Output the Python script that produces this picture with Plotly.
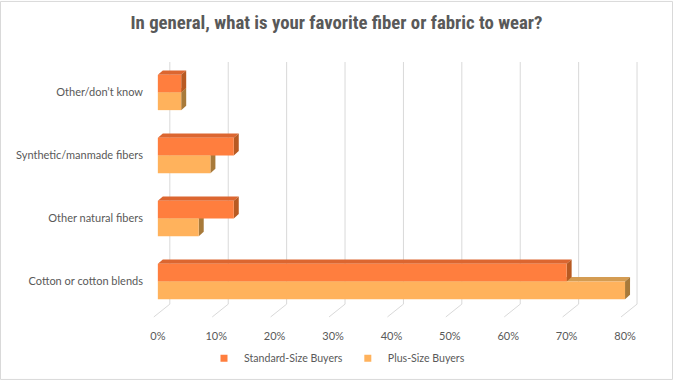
import plotly.graph_objects as go

# ---- data ----
categories = ["Cotton or cotton blends", "Other natural fibers",
              "Synthetic/manmade fibers", "Other/don’t know"]
standard = [0.70, 0.13, 0.13, 0.04]
plus = [0.80, 0.07, 0.09, 0.04]
x_ticks = [0.0, 0.1, 0.2, 0.3, 0.4, 0.5, 0.6, 0.7, 0.8]
series_names = ["Standard-Size Buyers", "Plus-Size Buyers"]

# ---- layout constants (styles) ----
W, H = 673, 385
L, R, T, B = 152, 23, 61, 68
PW = W - L - R
PH = H - T - B
PX_PER_X = 584.0          # pixels per 1.0 of value
X0 = -0.01
X1 = X0 + PW / PX_PER_X
PX_PER_Y = PH / 4.0
BAR_W = 0.28
DX = 5 / PX_PER_X          # 3D depth (x)
DY = 4.5 / PX_PER_Y        # 3D depth (y)

STD_FRONT, STD_TOP, STD_SIDE = "#FF7E3E", "#DC6630", "#B85A22"
PLS_FRONT, PLS_TOP, PLS_SIDE = "#FFB25C", "#D49C52", "#A87A3A"
GRID = "#D9D9D9"
TXT = "#595959"
FONT = "Lato, Open Sans, sans-serif"

fig = go.Figure()
y_pos = list(range(len(categories)))

fig.add_trace(go.Bar(y=y_pos, x=standard, orientation="h", offset=0, width=BAR_W,
                     marker=dict(color=STD_FRONT, line=dict(width=0)),
                     name=series_names[0], legendgroup="std", showlegend=False,
                     hoverinfo="x+name"))
fig.add_trace(go.Bar(y=y_pos, x=plus, orientation="h", offset=-BAR_W, width=BAR_W,
                     marker=dict(color=PLS_FRONT, line=dict(width=0)),
                     name=series_names[1], legendgroup="pls", showlegend=False,
                     hoverinfo="x+name"))
# legend entries with small square keys
for nm, col, grp in [(series_names[0], STD_FRONT, "std"), (series_names[1], PLS_FRONT, "pls")]:
    fig.add_trace(go.Scatter(x=[None], y=[None], mode="markers", name=nm, legendgroup=grp,
                             marker=dict(symbol="square", size=7, color=col),
                             showlegend=True, hoverinfo="skip"))

shapes = []
# back-plane gridlines with perspective feet
def py(p):
    return (T + PH - p) / PH
for t in x_ticks:
    xb = t + 12 / PX_PER_X
    xf = t - 4 / PX_PER_X
    shapes.append(dict(type="line", xref="x", yref="paper", x0=xb, x1=xb,
                       y0=py(62), y1=py(308), line=dict(color=GRID, width=1), layer="below"))
    shapes.append(dict(type="line", xref="x", yref="paper", x0=xb, x1=xf,
                       y0=py(308), y1=py(321), line=dict(color=GRID, width=1), layer="below"))

def poly(pts, color):
    path = "M " + " L ".join(f"{x},{y}" for x, y in pts) + " Z"
    return dict(type="path", xref="x", yref="y", path=path, fillcolor=color,
                line=dict(width=0), layer="below")

# plus bars (lower) depth faces first
for i, v in zip(y_pos, plus):
    y0, y1 = i - BAR_W, i
    shapes.append(poly([(0, y1), (v, y1), (v + DX, y1 + DY), (DX, y1 + DY)], PLS_TOP))
    shapes.append(poly([(v, y0), (v, y1), (v + DX, y1 + DY), (v + DX, y0 + DY)], PLS_SIDE))
# standard bars (upper)
for i, v in zip(y_pos, standard):
    y0, y1 = i, i + BAR_W
    shapes.append(poly([(0, y1), (v, y1), (v + DX, y1 + DY), (DX, y1 + DY)], STD_TOP))
    shapes.append(poly([(v, y0), (v, y1), (v + DX, y1 + DY), (v + DX, y0 + DY)], STD_SIDE))

# outer chart border
shapes.append(dict(type="rect", xref="paper", yref="paper",
                   x0=(0.5 - L) / PW, x1=(W - 0.5 - L) / PW,
                   y0=(T + PH - (H - 0.5)) / PH, y1=(T + PH - 0.5) / PH,
                   line=dict(color=GRID, width=1), fillcolor="rgba(0,0,0,0)", layer="above"))

fig.update_layout(
    width=W, height=H,
    margin=dict(l=L, r=R, t=T, b=B, pad=0),
    paper_bgcolor="white", plot_bgcolor="white",
    barmode="overlay",
    shapes=shapes,
    title=dict(text="In general, what is your favorite fiber or fabric to wear?",
               x=0.5, xref="container", xanchor="center",
               y=1 - 22 / H, yref="container", yanchor="middle",
               font=dict(family="Liberation Sans Narrow, Roboto Condensed, Arial Narrow, sans-serif",
                         size=18.8, color=TXT, weight="bold")),
    xaxis=dict(range=[X0, X1], tickvals=x_ticks, tickformat=".0%",
               showgrid=False, zeroline=False, showline=False, ticks="",
               ticklabelstandoff=15,
               tickfont=dict(family=FONT, size=11, color=TXT)),
    yaxis=dict(range=[-0.5, 3.5], tickmode="array", tickvals=y_pos, ticktext=categories,
               showgrid=False, zeroline=False, showline=False, ticks="",
               ticklabelstandoff=8, automargin=False,
               tickfont=dict(family=FONT, size=11, color=TXT)),
    legend=dict(orientation="h", x=(337 - L) / PW, xanchor="center",
                y=(T + PH - 363) / PH, yanchor="middle",
                font=dict(family=FONT, size=10.6, color=TXT),
                itemwidth=30, bgcolor="rgba(0,0,0,0)"),
    showlegend=True,
)

fig.write_html("out.html", config={"displayModeBar": False},
               post_script="document.body.style.margin='0px';")
